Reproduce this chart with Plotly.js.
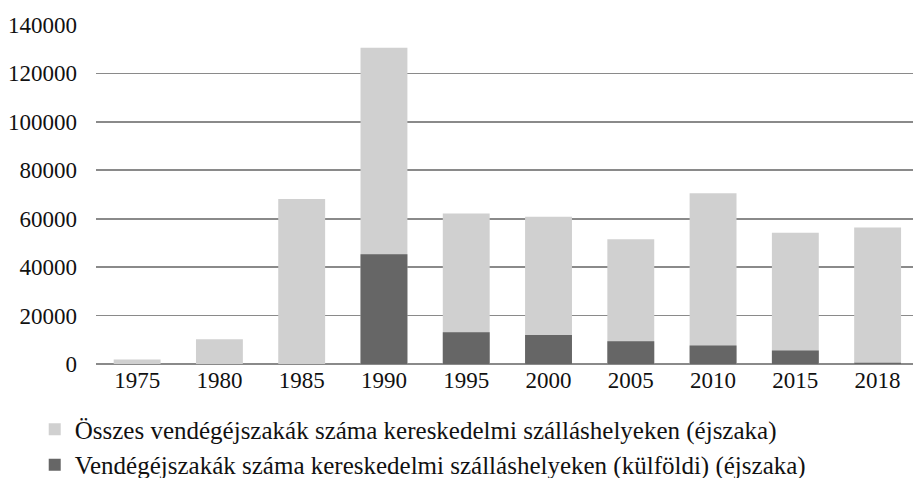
<!DOCTYPE html>
<html>
<head>
<meta charset="utf-8">
<script src="https://cdn.plot.ly/plotly-3.0.1.min.js"></script>
<style>html,body{margin:0;padding:0;background:#fff;}#chart{width:913px;height:478px;}</style>
</head>
<body>
<div id="chart"></div>
<script>
var years = ["1975","1980","1985","1990","1995","2000","2005","2010","2015","2018"];
var totalNights = [1900, 10200, 68100, 130600, 62200, 60800, 51500, 70500, 54200, 56400];
var foreignNights = [0, 0, 0, 45300, 13100, 12000, 9400, 7600, 5600, 500];
var seriesNames = [
  "Összes vendégéjszakák száma kereskedelmi szálláshelyeken (éjszaka)",
  "Vendégéjszakák száma kereskedelmi szálláshelyeken (külföldi) (éjszaka)"
];
var yTicks = [0, 20000, 40000, 60000, 80000, 100000, 120000, 140000];

var font = "Liberation Serif, Times New Roman, serif";
var traces = [
  {type: "bar", x: years, y: totalNights, name: seriesNames[0],
   marker: {color: "#d0d0d0"}, width: 0.57, hoverinfo: "x+y"},
  {type: "bar", x: years, y: foreignNights, name: seriesNames[1],
   marker: {color: "#666666"}, width: 0.57, hoverinfo: "x+y"}
];
var layout = {
  width: 913, height: 478,
  margin: {l: 96, r: 0, t: 25, b: 114, autoexpand: false},
  paper_bgcolor: "#fff", plot_bgcolor: "#fff",
  barmode: "overlay",
  font: {family: font, size: 23, color: "#111"},
  xaxis: {type: "category", range: [-0.5, 9.43], showgrid: false, zeroline: false,
          showline: false, ticks: "", automargin: false,
          tickfont: {family: font, size: 23, color: "#111"}},
  yaxis: {range: [0, 140000], tickvals: yTicks, ticktext: yTicks.map(String),
          showgrid: true, gridcolor: "#8a8a8a", gridwidth: 1.6, zeroline: true,
          zerolinecolor: "#8a8a8a", zerolinewidth: 1.6, showline: false, ticks: "",
          automargin: false, ticklabelstandoff: 18,
          tickfont: {family: font, size: 23, color: "#111"}},
  showlegend: true,
  legend: {orientation: "v", x: -0.075, xanchor: "left", y: -0.125, yanchor: "top",
           traceorder: "normal", bgcolor: "rgba(0,0,0,0)",
           font: {family: font, size: 25, color: "#111"}}
};
Plotly.newPlot("chart", traces, layout, {displayModeBar: false, staticPlot: true});
</script>
</body>
</html>
